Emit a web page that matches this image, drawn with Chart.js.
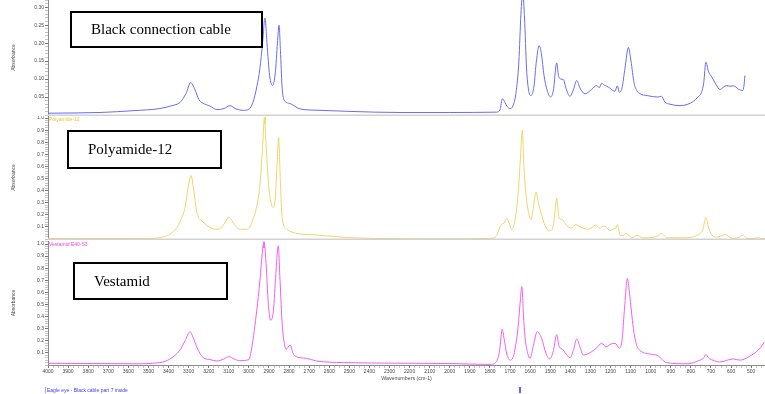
<!DOCTYPE html>
<html>
<head>
<meta charset="utf-8">
<script src="https://cdn.jsdelivr.net/npm/chart.js@4.4.1/dist/chart.umd.min.js"></script>
<style>
  html, body { margin: 0; padding: 0; background: #fff; }
  #wrap { position: relative; width: 765px; height: 394px; overflow: hidden; font-family: "Liberation Sans", Arial, sans-serif; }
  canvas { position: absolute; left: 0; }
  .box { position: absolute; border: 2px solid #000; box-sizing: border-box; font-family: "Liberation Serif", "Times New Roman", serif; font-size: 15px; color: #000; display: flex; align-items: center; }
  .tag { position: absolute; font-size: 5px; line-height: 6px; white-space: nowrap; }
  .cursor { position: absolute; width: 2px; }
</style>
</head>
<body>
<div id="wrap">
  <canvas id="pCable" width="765" height="116" style="top:0"></canvas>
  <canvas id="pPa12" width="765" height="124" style="top:116px"></canvas>
  <canvas id="pVest" width="765" height="154" style="top:240px"></canvas>

  <div class="box" style="left:70px;top:11px;width:193px;height:37px;padding-left:19px">Black connection cable</div>
  <div class="box" style="left:67px;top:130px;width:155px;height:39px;padding-left:19px">Polyamide-12</div>
  <div class="box" style="left:73px;top:262px;width:155px;height:38px;padding-left:19px">Vestamid</div>

  <div class="tag" style="left:49px;top:116px;color:#e6c840">Polyamide-12</div>
  <div class="tag" style="left:49px;top:241px;color:#f040f0">Vestamid E40-S3</div>
  <div class="tag" style="left:45px;top:387px;color:#3a3aff;border-left:1px solid #9a9aff;padding-left:1px">Eagle eye - Black cable part 7 inside</div>

  <div class="cursor" style="left:264px;top:117px;height:7px;background:#f2dc70"></div>
  <div class="cursor" style="left:263px;top:242px;height:6px;background:#f070f0"></div>
  <div class="cursor" style="left:519px;top:387px;height:6px;background:#6060ff"></div>
</div>
<script>
// Wavenumber axis (cm-1) and tick values
const xTickValues = [4000, 3900, 3800, 3700, 3600, 3500, 3400, 3300, 3200, 3100, 3000, 2900, 2800, 2700, 2600, 2500,
                     2400, 2300, 2200, 2100, 2000, 1900, 1800, 1700, 1600, 1500, 1400, 1300, 1200, 1100, 1000, 900,
                     800, 700, 600, 500];
const yTicksCable = [0.05, 0.10, 0.15, 0.20, 0.25, 0.30];
const yTicksUnit = [0.1, 0.2, 0.3, 0.4, 0.5, 0.6, 0.7, 0.8, 0.9, 1.0];

// Black connection cable
const cableWavenumbers = [4000, 3741, 3577, 3443, 3383, 3343, 3313, 3290, 3268, 3248, 3229, 3194, 3159, 3124, 3094, 3064,
  3030, 3000, 2980, 2960, 2945, 2932, 2920, 2910, 2897, 2882, 2868, 2858, 2850, 2843, 2835, 2826, 2796, 2746, 2646,
  2497, 2248, 2000, 1767, 1750, 1738, 1725, 1716, 1700, 1686, 1671, 1656, 1646, 1637, 1628, 1618, 1608, 1596, 1581,
  1569, 1555, 1544, 1531, 1516, 1498, 1484, 1468, 1459, 1447, 1435, 1422, 1402, 1385, 1368, 1352, 1327, 1294, 1270,
  1256, 1244, 1228, 1211, 1178, 1166, 1156, 1143, 1128, 1111, 1098, 1083, 1069, 1053, 1018, 987, 964, 946, 929, 904,
  854, 815, 788, 765, 747, 736, 725, 713, 695, 675, 655, 640, 622, 606, 589, 576, 564, 551, 542, 536, 531];
const cableAbsorbance = [0.005, 0.007, 0.012, 0.018, 0.026, 0.035, 0.06, 0.09, 0.07, 0.042, 0.033, 0.025, 0.015, 0.018,
  0.026, 0.017, 0.013, 0.016, 0.035, 0.08, 0.13, 0.2, 0.27, 0.2, 0.11, 0.082, 0.12, 0.2, 0.25, 0.18, 0.08, 0.043, 0.032,
  0.017, 0.013, 0.01, 0.007, 0.007, 0.008, 0.015, 0.045, 0.035, 0.025, 0.018, 0.025, 0.06, 0.15, 0.28, 0.34, 0.27, 0.13,
  0.07, 0.054, 0.08, 0.15, 0.193, 0.17, 0.11, 0.07, 0.05, 0.07, 0.145, 0.11, 0.1, 0.099, 0.075, 0.052, 0.07, 0.096,
  0.075, 0.059, 0.071, 0.082, 0.076, 0.088, 0.082, 0.078, 0.066, 0.081, 0.063, 0.075, 0.13, 0.188, 0.15, 0.09, 0.068,
  0.059, 0.054, 0.051, 0.05, 0.052, 0.036, 0.03, 0.026, 0.03, 0.038, 0.05, 0.063, 0.09, 0.147, 0.122, 0.105, 0.085,
  0.071, 0.077, 0.082, 0.08, 0.081, 0.078, 0.072, 0.069, 0.068, 0.08, 0.11];

// Polyamide-12 reference
const pa12Wavenumbers = [4000, 3741, 3492, 3428, 3393, 3359, 3338, 3318, 3303, 3288, 3276, 3260, 3248, 3235, 3214, 3189,
  3160, 3134, 3114, 3099, 3084, 3061, 3034, 3011, 2995, 2980, 2961, 2945, 2932, 2923, 2915, 2902, 2890, 2879, 2868,
  2859, 2852, 2845, 2837, 2829, 2810, 2779, 2663, 2497, 2248, 2000, 1800, 1767, 1755, 1742, 1731, 1716, 1706, 1692,
  1676, 1660, 1649, 1639, 1631, 1621, 1608, 1596, 1583, 1571, 1559, 1543, 1526, 1502, 1484, 1475, 1468, 1462, 1455,
  1440, 1426, 1410, 1392, 1372, 1352, 1336, 1311, 1293, 1273, 1253, 1238, 1223, 1203, 1183, 1173, 1165, 1158, 1153,
  1138, 1123, 1108, 1095, 1067, 1037, 994, 964, 946, 934, 921, 821, 785, 755, 740, 725, 713, 697, 672, 650, 631, 611,
  589, 566, 542, 526, 515, 486, 465, 446, 431];
const pa12Absorbance = [0.005, 0.004, 0.005, 0.017, 0.04, 0.094, 0.16, 0.26, 0.42, 0.525, 0.42, 0.23, 0.17, 0.15, 0.12,
  0.09, 0.08, 0.1, 0.15, 0.18, 0.15, 0.094, 0.08, 0.08, 0.1, 0.16, 0.27, 0.45, 0.75, 1.0, 0.8, 0.45, 0.3, 0.26, 0.35,
  0.65, 0.84, 0.55, 0.23, 0.125, 0.08, 0.053, 0.033, 0.011, 0.003, 0.002, 0.005, 0.025, 0.08, 0.12, 0.13, 0.17, 0.14,
  0.08, 0.15, 0.37, 0.65, 0.9, 0.6, 0.37, 0.22, 0.16, 0.27, 0.39, 0.3, 0.2, 0.11, 0.067, 0.12, 0.25, 0.34, 0.25, 0.17,
  0.16, 0.13, 0.1, 0.09, 0.12, 0.1, 0.09, 0.08, 0.095, 0.115, 0.09, 0.105, 0.1, 0.07, 0.085, 0.09, 0.12, 0.07, 0.03,
  0.03, 0.045, 0.03, 0.01, 0.03, 0.01, 0.012, 0.025, 0.045, 0.03, 0.01, 0.01, 0.02, 0.045, 0.08, 0.18, 0.1, 0.037,
  0.015, 0.025, 0.04, 0.02, 0.005, 0.01, 0.03, 0.012, 0.003, 0.005, 0.01, 0.004, 0.003];

// Vestamid E40-S3 reference
const vestWavenumbers = [4000, 3741, 3577, 3443, 3393, 3343, 3318, 3293, 3278, 3260, 3227, 3194, 3160, 3124, 3099, 3074,
  3045, 3000, 2985, 2961, 2945, 2932, 2925, 2915, 2903, 2892, 2878, 2866, 2854, 2845, 2834, 2820, 2815, 2795, 2781,
  2771, 2713, 2663, 2530, 2248, 2000, 1800, 1767, 1752, 1739, 1730, 1716, 1700, 1686, 1676, 1661, 1648, 1642, 1631,
  1625, 1611, 1601, 1584, 1565, 1543, 1522, 1502, 1484, 1468, 1455, 1438, 1425, 1402, 1385, 1368, 1352, 1336, 1294,
  1270, 1244, 1223, 1203, 1178, 1156, 1143, 1131, 1116, 1106, 1086, 1071, 1056, 994, 964, 946, 922, 821, 755, 736, 725,
  713, 690, 656, 589, 555, 497, 464, 444, 434];
const vestAbsorbance = [0.014, 0.012, 0.01, 0.02, 0.05, 0.124, 0.2, 0.275, 0.23, 0.15, 0.06, 0.045, 0.033, 0.05, 0.069,
  0.05, 0.036, 0.045, 0.15, 0.45, 0.7, 0.95, 1.02, 0.85, 0.5, 0.37, 0.45, 0.75, 0.985, 0.7, 0.33, 0.15, 0.13, 0.165,
  0.1, 0.074, 0.055, 0.033, 0.02, 0.015, 0.012, 0.005, 0.03, 0.12, 0.295, 0.22, 0.09, 0.04, 0.06, 0.124, 0.3, 0.55,
  0.65, 0.35, 0.22, 0.09, 0.055, 0.16, 0.275, 0.22, 0.1, 0.05, 0.12, 0.25, 0.15, 0.13, 0.1, 0.06, 0.12, 0.215, 0.15,
  0.083, 0.11, 0.14, 0.18, 0.15, 0.17, 0.18, 0.14, 0.2, 0.45, 0.715, 0.6, 0.3, 0.17, 0.124, 0.088, 0.077, 0.05, 0.02,
  0.01, 0.04, 0.06, 0.088, 0.06, 0.04, 0.025, 0.05, 0.04, 0.083, 0.124, 0.165, 0.19];

const WN_MIN = 431, WN_MAX = 4000;
const tickFont = { family: "'Liberation Sans', Arial, sans-serif", size: 5 };
const axisGrey = '#8a8a8a';
const labelGrey = '#4a4a4a';

function points(xs, ys) {
  return xs.map((x, i) => ({ x: x, y: ys[i] }));
}

// Minor ticks between the labelled ones, for the dotted-axis look
function withMinors(major, step, lo, hi) {
  const out = [];
  const n = Math.round((hi - lo) / step);
  for (let i = 0; i <= n; i++) {
    const v = +(lo + i * step).toFixed(4);
    const isMajor = major.some(m => Math.abs(m - v) < step / 10);
    out.push({ value: v, major: isMajor });
  }
  return out;
}

// Grey rule under a panel
const panelRule = {
  id: 'panelRule',
  afterDraw(chart, args, opts) {
    if (!opts.draw) return;
    const { ctx, chartArea } = chart;
    ctx.save();
    ctx.strokeStyle = '#d2d2d2';
    ctx.lineWidth = 2;
    ctx.beginPath();
    ctx.moveTo(chartArea.left, chartArea.bottom + 0.5);
    ctx.lineTo(chart.width, chartArea.bottom + 0.5);
    ctx.stroke();
    ctx.restore();
  }
};

function yScale(max, majors, minorStep, decimals) {
  return {
    min: 0,
    max: max,
    afterBuildTicks: s => { s.ticks = withMinors(majors, minorStep, 0, max); },
    afterFit: s => { s.width = 48; s.paddingTop = 0; s.paddingBottom = 0; },
    ticks: {
      autoSkip: false,
      font: tickFont,
      color: labelGrey,
      padding: 1,
      callback: function (v, i, ticks) {
        return ticks[i].major && v > 0 ? (+v).toFixed(decimals) : '';
      }
    },
    grid: {
      drawOnChartArea: false,
      tickLength: 3,
      tickColor: c => (c.tick && c.tick.major ? '#777' : '#c4c4c4'),
      lineWidth: 1
    },
    border: { color: axisGrey },
    title: { display: true, text: 'Absorbance', font: tickFont, color: labelGrey, padding: { top: 11, bottom: 0 } }
  };
}

function xScale(show) {
  const base = { type: 'linear', reverse: true, min: WN_MIN, max: WN_MAX, display: show };
  if (!show) return base;
  return Object.assign(base, {
    afterBuildTicks: s => {
      s.ticks = withMinors(xTickValues, 25, 450, 4000).filter(t => t.value >= WN_MIN);
    },
    afterFit: s => { s.height = 17; s.paddingLeft = 0; s.paddingRight = 0; },
    ticks: {
      autoSkip: false,
      maxRotation: 0,
      font: tickFont,
      color: labelGrey,
      padding: 1,
      callback: function (v, i, ticks) { return ticks[i].major ? String(v) : ''; }
    },
    grid: {
      drawOnChartArea: false,
      tickLength: 3,
      tickColor: c => (c.tick && c.tick.major ? '#777' : '#c4c4c4')
    },
    border: { color: axisGrey },
    title: { display: true, text: 'Wavenumbers (cm-1)', font: { family: tickFont.family, size: 5.3 }, color: labelGrey, padding: { top: 1, bottom: 0 } }
  });
}

function panel(id, label, data, color, yMax, yMajors, minorStep, decimals, showX, padTop, padBottom, rule) {
  return new Chart(document.getElementById(id), {
    type: 'line',
    data: {
      datasets: [{
        label: label,
        data: data,
        borderColor: color,
        borderWidth: 1,
        pointRadius: 0,
        cubicInterpolationMode: 'monotone',
        fill: false
      }]
    },
    options: {
      responsive: false,
      devicePixelRatio: 1,
      animation: false,
      events: [],
      layout: { padding: { top: padTop, left: 0, right: 0, bottom: padBottom } },
      plugins: { legend: { display: false }, tooltip: { enabled: false }, panelRule: { draw: rule } },
      scales: { x: xScale(showX), y: yScale(yMax, yMajors, minorStep, decimals) }
    },
    plugins: [panelRule]
  });
}

panel('pCable', 'Black connection cable', points(cableWavenumbers, cableAbsorbance), '#6a6af4',
      0.32, yTicksCable, 0.01, 2, false, 0, 1, true);
panel('pPa12', 'Polyamide-12', points(pa12Wavenumbers, pa12Absorbance), '#f0d468',
      1.017, yTicksUnit, 0.02, 1, false, 0, 1, true);
panel('pVest', 'Vestamid E40-S3', points(vestWavenumbers, vestAbsorbance), '#f45cf4',
      1.025, yTicksUnit, 0.02, 1, true, 1, 12, false);
</script>
</body>
</html>
